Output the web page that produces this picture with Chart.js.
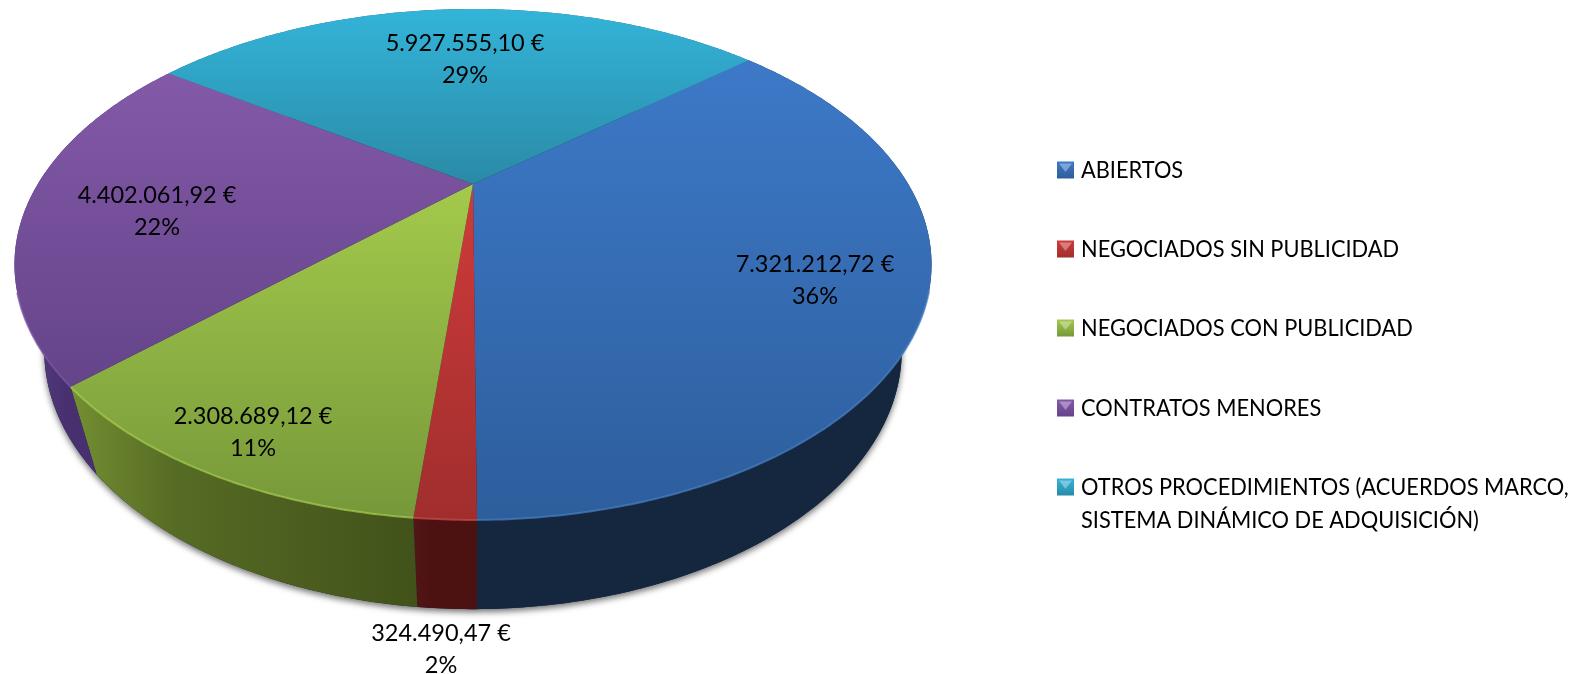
<!DOCTYPE html>
<html lang="es">
<head>
<meta charset="utf-8">
<title>Procedimientos de contratación</title>
<script src="https://cdn.jsdelivr.net/npm/chart.js@4"></script>
<style>
  html, body { margin: 0; padding: 0; background: #fff; }
  canvas { display: block; }
</style>
</head>
<body>
<canvas id="grafico" width="1594" height="674"></canvas>
<script>
const categorias = [
  "ABIERTOS",
  "NEGOCIADOS SIN PUBLICIDAD",
  "NEGOCIADOS CON PUBLICIDAD",
  "CONTRATOS MENORES",
  ["OTROS PROCEDIMIENTOS (ACUERDOS MARCO,", "SISTEMA DINÁMICO DE ADQUISICIÓN)"]
];
const importes = [7321212.72, 324490.47, 2308689.12, 4402061.92, 5927555.10];
const giroInicial = 49.7;

// colores: arriba, abajo de la cara superior
const caraArriba = ["#3d79c8", "#cf3b3a", "#a4ca4b", "#8359a8", "#33b4d9"];
const caraAbajo = ["#2d5e9c", "#a02e2d", "#76983a", "#65448a", "#2a8aa6"];
const borde = ["#4a80c4", "#cf4a48", "#a9d050", "#7d5aa6", "#3cb8d8"];
const lateralIzq = ["#14273f", "#521614", "#748f32", "#5b4086", "#1d6a80"];
const lateralDer = ["#14273f", "#4c1211", "#41521a", "#483070", "#1d6a80"];

// perspectiva del disco
const hubX = 473, hubY = 184, semiA = 435.2, semiB = 230.1, fuga = 0.315;
const escalaBase = 0.935, semiBBase = 233, hubBaseY = 269;

function punto(angulo, base) {
  const u = Math.cos(angulo), v = Math.sin(angulo), w = 1 - fuga * v;
  if (base) {
    return [hubX + escalaBase * semiA * u / w, hubBaseY + semiBBase * v / w];
  }
  return [hubX + semiA * u / w, hubY + semiB * v / w];
}

function puntosArco(inicio, fin, base) {
  const pasos = Math.max(2, Math.ceil((fin - inicio) / 0.01));
  const lista = [];
  for (let i = 0; i <= pasos; i++) {
    lista.push(punto(inicio + (fin - inicio) * i / pasos, base));
  }
  return lista;
}

function trazar(ctx, lista) {
  ctx.beginPath();
  lista.forEach((p, i) => i === 0 ? ctx.moveTo(p[0], p[1]) : ctx.lineTo(p[0], p[1]));
}

const disco3d = {
  id: "disco3d",
  beforeDatasetDraw(chart) {
    const ctx = chart.ctx;
    const arcos = chart.getDatasetMeta(0).data;

    // sombra de la base
    ctx.save();
    ctx.shadowColor = "rgba(0,0,0,0.55)";
    ctx.shadowBlur = 6;
    ctx.shadowOffsetY = 3;
    ctx.fillStyle = "#14273f";
    trazar(ctx, puntosArco(0, Math.PI * 2, true));
    ctx.closePath();
    ctx.fill();
    ctx.restore();

    // laterales
    arcos.forEach((arco, i) => {
      const arriba = puntosArco(arco.startAngle, arco.endAngle, false);
      const abajo = puntosArco(arco.startAngle, arco.endAngle, true).reverse();
      const xs = arriba.concat(abajo).map(p => p[0]);
      const g = ctx.createLinearGradient(Math.min(...xs), 0, Math.max(...xs), 0);
      g.addColorStop(0, lateralIzq[i]);
      g.addColorStop(0.3, i === 2 ? "#566b24" : lateralDer[i]);
      g.addColorStop(1, lateralDer[i]);
      ctx.fillStyle = g;
      trazar(ctx, arriba.concat(abajo));
      ctx.closePath();
      ctx.fill();
    });

    // cara superior
    arcos.forEach((arco, i) => {
      const arcoPts = puntosArco(arco.startAngle, arco.endAngle, false);
      const ys = arcoPts.map(p => p[1]).concat(hubY);
      const g = ctx.createLinearGradient(0, Math.min(...ys), 0, Math.max(...ys));
      g.addColorStop(0, caraArriba[i]);
      g.addColorStop(1, caraAbajo[i]);
      ctx.fillStyle = g;
      trazar(ctx, [[hubX, hubY]].concat(arcoPts));
      ctx.closePath();
      ctx.fill();

      // brillo del canto, solo en la parte delantera
      const delante = arcoPts.filter(p => p[1] > 290);
      if (delante.length > 1) {
        ctx.strokeStyle = borde[i];
        ctx.globalAlpha = 0.7;
        ctx.lineWidth = 2;
        trazar(ctx, delante);
        ctx.stroke();
        ctx.globalAlpha = 1;
      }
    });

    return false; // el arco plano de Chart.js no se pinta
  }
};

// posicion del texto de cada porcion
const centroEtiqueta = [[815, 264], [441, 633], [253, 416], [157, 195], [465, 43]];

function formatoEuro(n) {
  const partes = n.toFixed(2).split(".");
  return partes[0].replace(/\B(?=(\d{3})+(?!\d))/g, ".") + "," + partes[1] + " €";
}

const etiquetas = {
  id: "etiquetas",
  afterDraw(chart) {
    const ctx = chart.ctx;
    const total = importes.reduce((a, b) => a + b, 0);
    ctx.save();
    ctx.font = "23.5px Lato";
    ctx.fillStyle = "#000";
    ctx.textAlign = "center";
    ctx.textBaseline = "middle";
    importes.forEach((valor, i) => {
      const [x, y] = centroEtiqueta[i];
      ctx.fillText(formatoEuro(valor), x, y);
      ctx.fillText(Math.round(valor / total * 100) + "%", x, y + 32);
    });
    ctx.restore();
  }
};

const filasLeyenda = [170, 249, 328, 408, 487];

const leyenda = {
  id: "leyenda",
  afterDraw(chart) {
    const ctx = chart.ctx;
    ctx.save();
    ctx.font = "23.5px Lato";
    ctx.fillStyle = "#000";
    ctx.textBaseline = "middle";
    chart.data.labels.forEach((texto, i) => {
      const y = filasLeyenda[i];
      const x0 = 1057, t = 17, y0 = y - t / 2;
      const g = ctx.createLinearGradient(0, y0, 0, y0 + t);
      g.addColorStop(0, caraArriba[i]);
      g.addColorStop(1, caraAbajo[i]);
      ctx.fillStyle = g;
      ctx.fillRect(x0, y0, t, t);
      ctx.fillStyle = "rgba(255,255,255,0.35)";
      ctx.beginPath();
      ctx.moveTo(x0 + 2, y0 + 2);
      ctx.lineTo(x0 + t - 2, y0 + 2);
      ctx.lineTo(x0 + t / 2, y0 + t / 2 + 2);
      ctx.closePath();
      ctx.fill();
      ctx.fillStyle = "#000";
      const lineas = Array.isArray(texto) ? texto : [texto];
      // Lato sale mas ancha en mayusculas, se estrecha con maxWidth
      lineas.forEach((linea, k) => {
        ctx.fillText(linea, 1081, y + k * 33.5, ctx.measureText(linea).width * 0.928);
      });
    });
    ctx.restore();
  }
};

new Chart(document.getElementById("grafico").getContext("2d"), {
  type: "pie",
  data: {
    labels: categorias,
    datasets: [{ data: importes, backgroundColor: caraArriba, borderWidth: 0 }]
  },
  options: {
    responsive: false,
    animation: false,
    rotation: giroInicial,
    plugins: {
      legend: { display: false },
      tooltip: { enabled: false }
    }
  },
  plugins: [disco3d, etiquetas, leyenda]
});
</script>
</body>
</html>
